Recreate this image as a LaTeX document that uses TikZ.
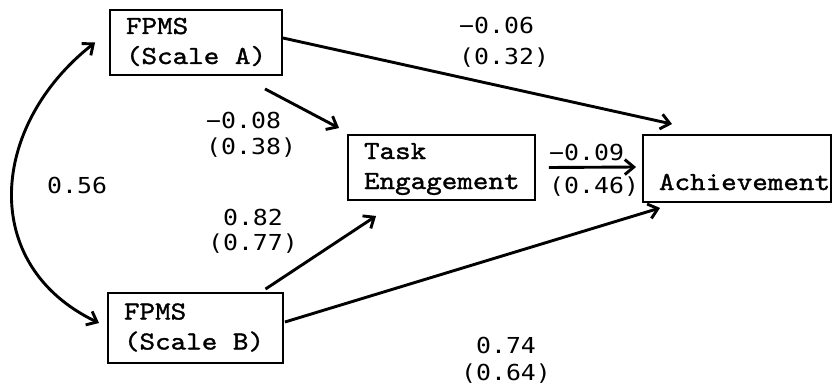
\documentclass[tikz,border=0pt]{standalone}
\usepackage{fontspec}
\newfontfamily\boxfont{lmmono10-regular.otf}[FakeStretch=1.14, FakeBold=1.3]
\newfontfamily\lblfont{DejaVu Sans Mono}[FakeStretch=1.13]
\usetikzlibrary{arrows.meta,calc}
\newcommand\topst{\rule{0pt}{21pt}}
\newcommand\botst{\rule[-8pt]{0pt}{8pt}}
\newcommand\lst{\rule{0pt}{18pt}}
\newcommand\tsp{\hbox to \fontcharwd\font`M{}}
\tikzset{
  box/.style={draw, line width=1.9pt, inner xsep=16pt, inner ysep=0pt, align=left,
    font=\boxfont\fontsize{26pt}{30pt}\selectfont},
  lbl/.style={inner sep=0pt, font=\lblfont\fontsize{22pt}{#1}\selectfont},
  lbl/.default=28pt,
  arr/.style={line width=2.9pt, -{Straight Barb[length=9pt,width=15pt]}},
  dbl/.style={line width=2.9pt, {Straight Barb[length=9pt,width=15pt]}-{Straight Barb[length=9pt,width=15pt]}},
}
\begin{document}
\begin{tikzpicture}[x=1pt,y=-1pt]
\useasboundingbox (0,0) rectangle (833,388);
% boxes
\node[box, text width=140pt, minimum height=65pt] (A) at (196,42.5) {\topst\mbox{FPMS}\\\mbox{(Scale\tsp A)}\botst};
\node[box, text width=143pt, minimum height=70pt] (B) at (195.5,328) {\topst\mbox{FPMS}\\\mbox{(Scale\tsp B)}\botst};
\node[box, text width=155pt, minimum height=65pt] (T) at (441.5,167.5) {\topst\mbox{Task}\\\mbox{Engagement}\botst};
\node[box, text width=156pt, minimum height=67pt] (Ach) at (737,168.5) {\topst\mbox{}\\\mbox{Achievement}\botst};
% labels
\node[lbl=31pt, anchor=north west, align=left] (l1) at (459,15) {\lst −0.06\\(0.32)};
\node[lbl=26pt, anchor=north west, align=left] (l2) at (206,110) {\lst −0.08\\(0.38)};
\node[lbl, anchor=north west] (l3) at (47,175) {\lst 0.56};
\node[lbl=25pt, anchor=north, align=center] (l4) at (253,207) {\lst 0.82\\(0.77)};
\node[lbl=33pt, anchor=north west, align=left] (l5) at (549,142) {\lst −0.09\\(0.46)};
\node[lbl=27pt, anchor=north, align=center] (l6) at (506,335) {\lst 0.74\\(0.64)};
% connectors
\draw[arr] ($(A.east)+(0,-4.5)$) -- ($(Ach.north west)+(30,-10)$);
\draw[arr] ($(A.south)+(69,13)$) -- ($(T.north west)+(-8,-6)$);
\draw[arr] ($(B.north)+(70,-3)$) -- ($(T.south west)+(29,15)$);
\draw[arr] ($(B.east)+(1,-6)$) -- ($(Ach.south west)+(18,5)$);
\draw[arr] ($(T.east)+(13,0)$) -- ($(Ach.west)+(-6,-1.5)$);
\coordinate (cA) at ($(A.west)+(-14,0)$);
\coordinate (cB) at ($(B.west)+(-8,-5)$);
\draw[dbl] (cA) .. controls (-10,125) and (-22,265) .. (cB);
\end{tikzpicture}
\end{document}
